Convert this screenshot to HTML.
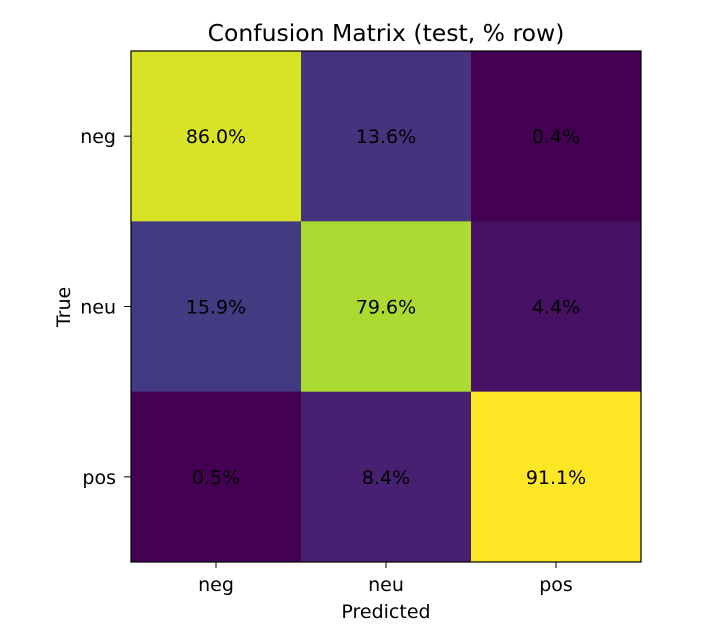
<!DOCTYPE html>
<html><head><meta charset="utf-8"><style>
body{margin:0;background:#fff}
svg{display:block;font-family:"DejaVu Sans","Liberation Sans",sans-serif}
</style></head><body>
<svg id="chart" width="728" height="644">
<text x="386" y="41" text-anchor="middle" style="font-size:23.5px">Confusion Matrix (test, % row)</text>
<g id="cells"></g>
<g id="ticks"></g>
<rect x="131" y="51" width="510" height="511" fill="none" stroke="#000" stroke-width="1.2"/>
<text x="386" y="618" text-anchor="middle" style="font-size:19px">Predicted</text>
<text x="0" y="0" transform="translate(70,307) rotate(-90)" text-anchor="middle" style="font-size:19px">True</text>
</svg>
<script>
const trueLabels = ["neg","neu","pos"];
const predLabels = ["neg","neu","pos"];
const row0 = [86.0, 13.6, 0.4];
const row1 = [15.9, 79.6, 4.4];
const row2 = [0.5, 8.4, 91.1];
const values = [row0, row1, row2];

const NS = "http://www.w3.org/2000/svg";
const X0 = 131, Y0 = 51, W = 510, H = 511;
const cw = W / predLabels.length, ch = H / trueLabels.length;
const xPos = j => X0 + j * cw;
const yPos = i => Y0 + i * ch;
const vir = ["#440154","#482475","#414487","#355f8d","#2a788e","#21918c","#22a884","#44bf70","#7ad151","#bddf26","#fde725"];
function hex(h){return [1,3,5].map(k=>parseInt(h.substr(k,2),16));}
function viridis(t){
  t = Math.max(0, Math.min(1, t));
  const s = t * 10, i = Math.min(9, Math.floor(s)), f = s - i;
  const a = hex(vir[i]), b = hex(vir[i+1]);
  return "rgb(" + a.map((v,k)=>Math.round(v + (b[k]-v)*f)).join(",") + ")";
}
const flat = values.flat();
const vmin = Math.min(...flat), vmax = Math.max(...flat);
const cells = document.getElementById("cells");
const ticks = document.getElementById("ticks");
values.forEach((row, i) => row.forEach((v, j) => {
  const r = document.createElementNS(NS, "rect");
  r.setAttribute("x", xPos(j)); r.setAttribute("y", yPos(i));
  r.setAttribute("width", cw + 0.5); r.setAttribute("height", ch + 0.5);
  r.setAttribute("fill", viridis((v - vmin) / (vmax - vmin)));
  
  
  cells.appendChild(r);
  const t = document.createElementNS(NS, "text");
  t.setAttribute("x", xPos(j) + cw / 2); t.setAttribute("y", yPos(i) + ch / 2 + 7);
  t.setAttribute("text-anchor", "middle"); t.setAttribute("style", "font-size:19px");
  t.textContent = v.toFixed(1) + "%";
  
  
  cells.appendChild(t);
}));
predLabels.forEach((lab, j) => {
  const cx = xPos(j) + cw / 2;
  const l = document.createElementNS(NS, "line");
  l.setAttribute("x1", cx); l.setAttribute("x2", cx); l.setAttribute("y1", 562); l.setAttribute("y2", 568);
  l.setAttribute("stroke", "#000");
  
  
  ticks.appendChild(l);
  const t = document.createElementNS(NS, "text");
  t.setAttribute("x", cx); t.setAttribute("y", 591); t.setAttribute("text-anchor", "middle"); t.setAttribute("style", "font-size:19px");
  t.textContent = lab;
  
  
  ticks.appendChild(t);
});
trueLabels.forEach((lab, i) => {
  const cy = yPos(i) + ch / 2;
  const l = document.createElementNS(NS, "line");
  l.setAttribute("x1", 124); l.setAttribute("x2", 131); l.setAttribute("y1", cy); l.setAttribute("y2", cy);
  l.setAttribute("stroke", "#000");
  
  
  ticks.appendChild(l);
  const t = document.createElementNS(NS, "text");
  t.setAttribute("x", 116); t.setAttribute("y", cy + 7); t.setAttribute("text-anchor", "end"); t.setAttribute("style", "font-size:19px");
  t.textContent = lab;
  
  
  ticks.appendChild(t);
});
</script>
</body></html>
